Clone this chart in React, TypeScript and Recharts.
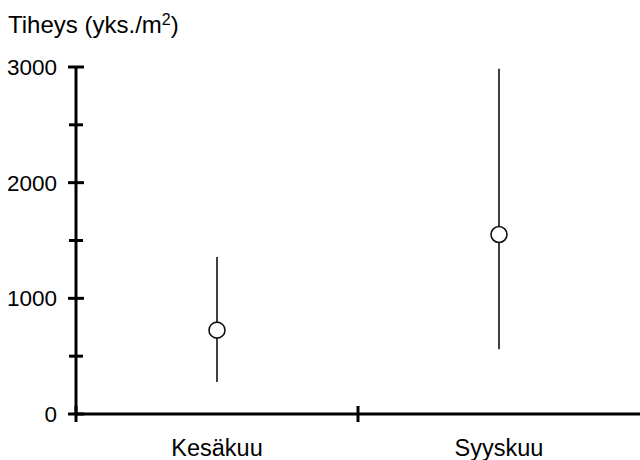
import React from "react";
import { ComposedChart, Scatter, XAxis, YAxis, ErrorBar } from "recharts";

const categories = ["Kesäkuu", "Syyskuu"];
const means = [725, 1552];
const lows = [276, 559];
const highs = [1358, 2985];
const yTicks = [0, 500, 1000, 1500, 2000, 2500, 3000];
const xTicks = [0, 0.5, 1, 1.5];

const data = categories.map((name, i) => ({
  name,
  x: i + 0.5,
  y: means[i],
  err: [means[i] - lows[i], highs[i] - means[i]],
}));

const FONT = '"Liberation Sans", Arial, Helvetica, sans-serif';

const YTick = (props: any) => {
  const { x, y, payload } = props;
  const v = payload.value;
  const major = v % 1000 === 0;
  const half = major ? 8 : 7;
  return (
    <g>
      <line x1={x - half} x2={x + half} y1={y} y2={y} stroke="#000" strokeWidth={3} />
      {major && (
        <text x={x - 19} y={y + 8} textAnchor="end" fontSize={22.5} fontFamily={FONT} fill="#000">
          {v}
        </text>
      )}
    </g>
  );
};

const XTick = (props: any) => {
  const { x, y, payload } = props;
  const v = payload.value;
  if (Number.isInteger(v)) {
    return <line x1={x} x2={x} y1={y - 8} y2={y + 8} stroke="#000" strokeWidth={3} />;
  }
  return (
    <text x={x} y={y + 42} textAnchor="middle" fontSize={23.5} fontFamily={FONT} fill="#000">
      {categories[Math.floor(v)]}
    </text>
  );
};

const Dot = (p: any) => (
  <circle cx={p.cx} cy={p.cy} r={8} fill="#fff" stroke="#111" strokeWidth={1.6} />
);

export default function App() {
  return (
    <div style={{ position: "absolute", left: 0, top: 0, width: 640, height: 460, background: "#fff" }}>
      <svg width={640} height={60} style={{ position: "absolute", left: 0, top: 0 }}>
        <text x={8} y={33} fontSize={24} fontFamily={FONT} fill="#000">
          Tiheys (yks./m
          <tspan dy={-8} fontSize={16}>2</tspan>
          <tspan dy={8}>)</tspan>
        </text>
      </svg>
      <ComposedChart
        width={640}
        height={460}
        data={data}
        margin={{ top: 67, right: 0, bottom: 0, left: 0 }}
        style={{ position: "absolute", left: 0, top: 0 }}
      >
        <XAxis
          dataKey="x"
          type="number"
          domain={[0, 2]}
          ticks={xTicks}
          interval={0}
          height={46}
          tickSize={0}
          tickMargin={0}
          tickLine={false}
          axisLine={{ stroke: "#000", strokeWidth: 3 }}
          tick={<XTick />}
        />
        <YAxis
          dataKey="y"
          type="number"
          domain={[0, 3000]}
          ticks={yTicks}
          interval={0}
          width={76}
          tickSize={0}
          tickMargin={0}
          tickLine={false}
          axisLine={{ stroke: "#000", strokeWidth: 3 }}
          tick={<YTick />}
        />
        <Scatter dataKey="y" isAnimationActive={false} shape={Dot}>
          <ErrorBar dataKey="err" direction="y" width={0} stroke="#111" strokeWidth={1.6} isAnimationActive={false} />
        </Scatter>
      </ComposedChart>
    </div>
  );
}
